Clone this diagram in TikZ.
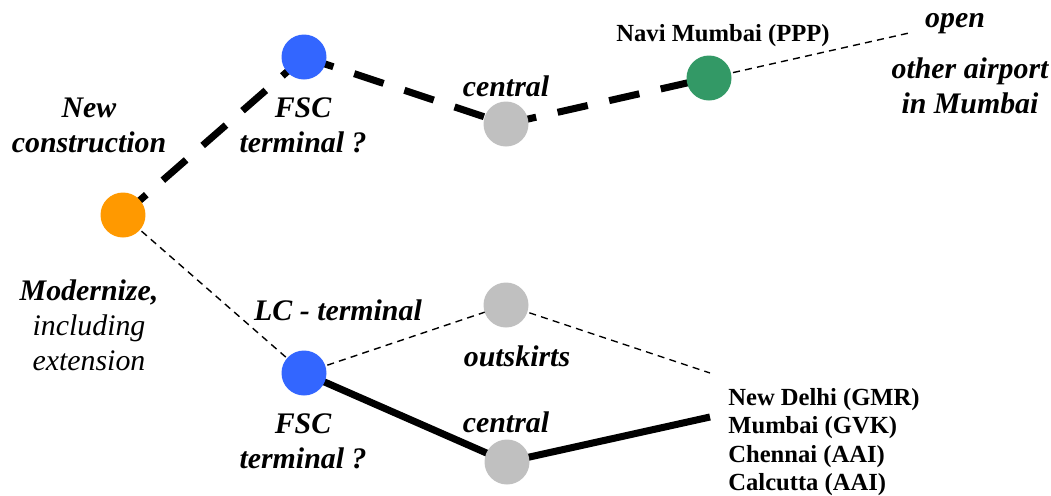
\documentclass[tikz,border=0pt]{standalone}
\usepackage{fontspec}
\setmainfont{Liberation Serif}
\usetikzlibrary{backgrounds}

\begin{document}
\begin{tikzpicture}[
  x=0.02cm, y=-0.02cm,
  dot/.style={circle, minimum size=0.9cm, inner sep=0pt},
  choice/.style={font=\fontsize{17}{20}\selectfont\bfseries\itshape, align=center, inner sep=0pt},
  site/.style={font=\fontsize{14}{16.2}\selectfont\bfseries, align=left, inner sep=0pt},
  optpath/.style={line width=4pt, dash pattern=on 17.6pt off 12.5pt},
  realpath/.style={line width=4pt},
  weakpath/.style={line width=0.8pt, dash pattern=on 4pt off 3pt}
]

\definecolor{startorange}{RGB}{255,153,0}
\definecolor{fscblue}{RGB}{51,102,255}
\definecolor{sitegray}{RGB}{192,192,192}
\definecolor{ppgreen}{RGB}{51,153,102}

\useasboundingbox (0,0) rectangle (1051,495);

% decision points, in pixel units of the layout
\node[dot, fill=startorange] (newbuild) at (123,215) {};
\node[dot, fill=fscblue] (fsctop) at (304,57) {};
\node[dot, fill=sitegray] (centraltop) at (506,124) {};
\node[dot, fill=ppgreen] (navi) at (709,78) {};
\node[dot, fill=fscblue] (fscbot) at (304,373) {};
\node[dot, fill=sitegray] (outskirts) at (506,305) {};
\node[dot, fill=sitegray] (centralbot) at (507,462) {};

\coordinate (openend) at (909,33);
\coordinate (listtop) at (710,373);
\coordinate (listmid) at (710,417);

\node[choice] (newtext) at (89,125) {New\\construction};
\node[choice] (modtext) at (89,325) {Modernize,\\\normalfont\itshape including\\\normalfont\itshape extension};
\node[choice] (fsctoptext) at (303,125) {FSC\\terminal ?};
\node[choice] (fscbottext) at (303,441) {FSC\\terminal ?};
\node[choice] (lctext) at (338,310) {LC - terminal};
\node[choice] (centraltoptext) at (506,86) {central};
\node[choice] (outskirtstext) at (517,356) {outskirts};
\node[choice] (centralbottext) at (506,422) {central};
\node[choice] (opentext) at (955,24) {open};
\node[choice] (othertext) at (970,86) {other airport\\in Mumbai};
\node[site, align=center] (navitext) at (723,36) {Navi Mumbai (PPP)};
\node[site, anchor=north west] (sitelist) at (728,388)
  {New Delhi (GMR)\\Mumbai (GVK)\\Chennai (AAI)\\Calcutta (AAI)};

\begin{scope}[on background layer]
  \draw[optpath] (newbuild.center) -- (fsctop.center);
  \draw[optpath] (fsctop.center) -- (centraltop.center);
  \draw[optpath] (centraltop.center) -- (navi.center);
  \draw[weakpath] (navi.center) -- (openend);
  \draw[weakpath] (newbuild.center) -- (fscbot.center);
  \draw[weakpath] (fscbot.center) -- (outskirts.center);
  \draw[weakpath] (outskirts.center) -- (listtop);
  \draw[realpath] (fscbot.center) -- (centralbot.center);
  \draw[realpath] (centralbot.center) -- (listmid);
\end{scope}

\end{tikzpicture}
\end{document}
